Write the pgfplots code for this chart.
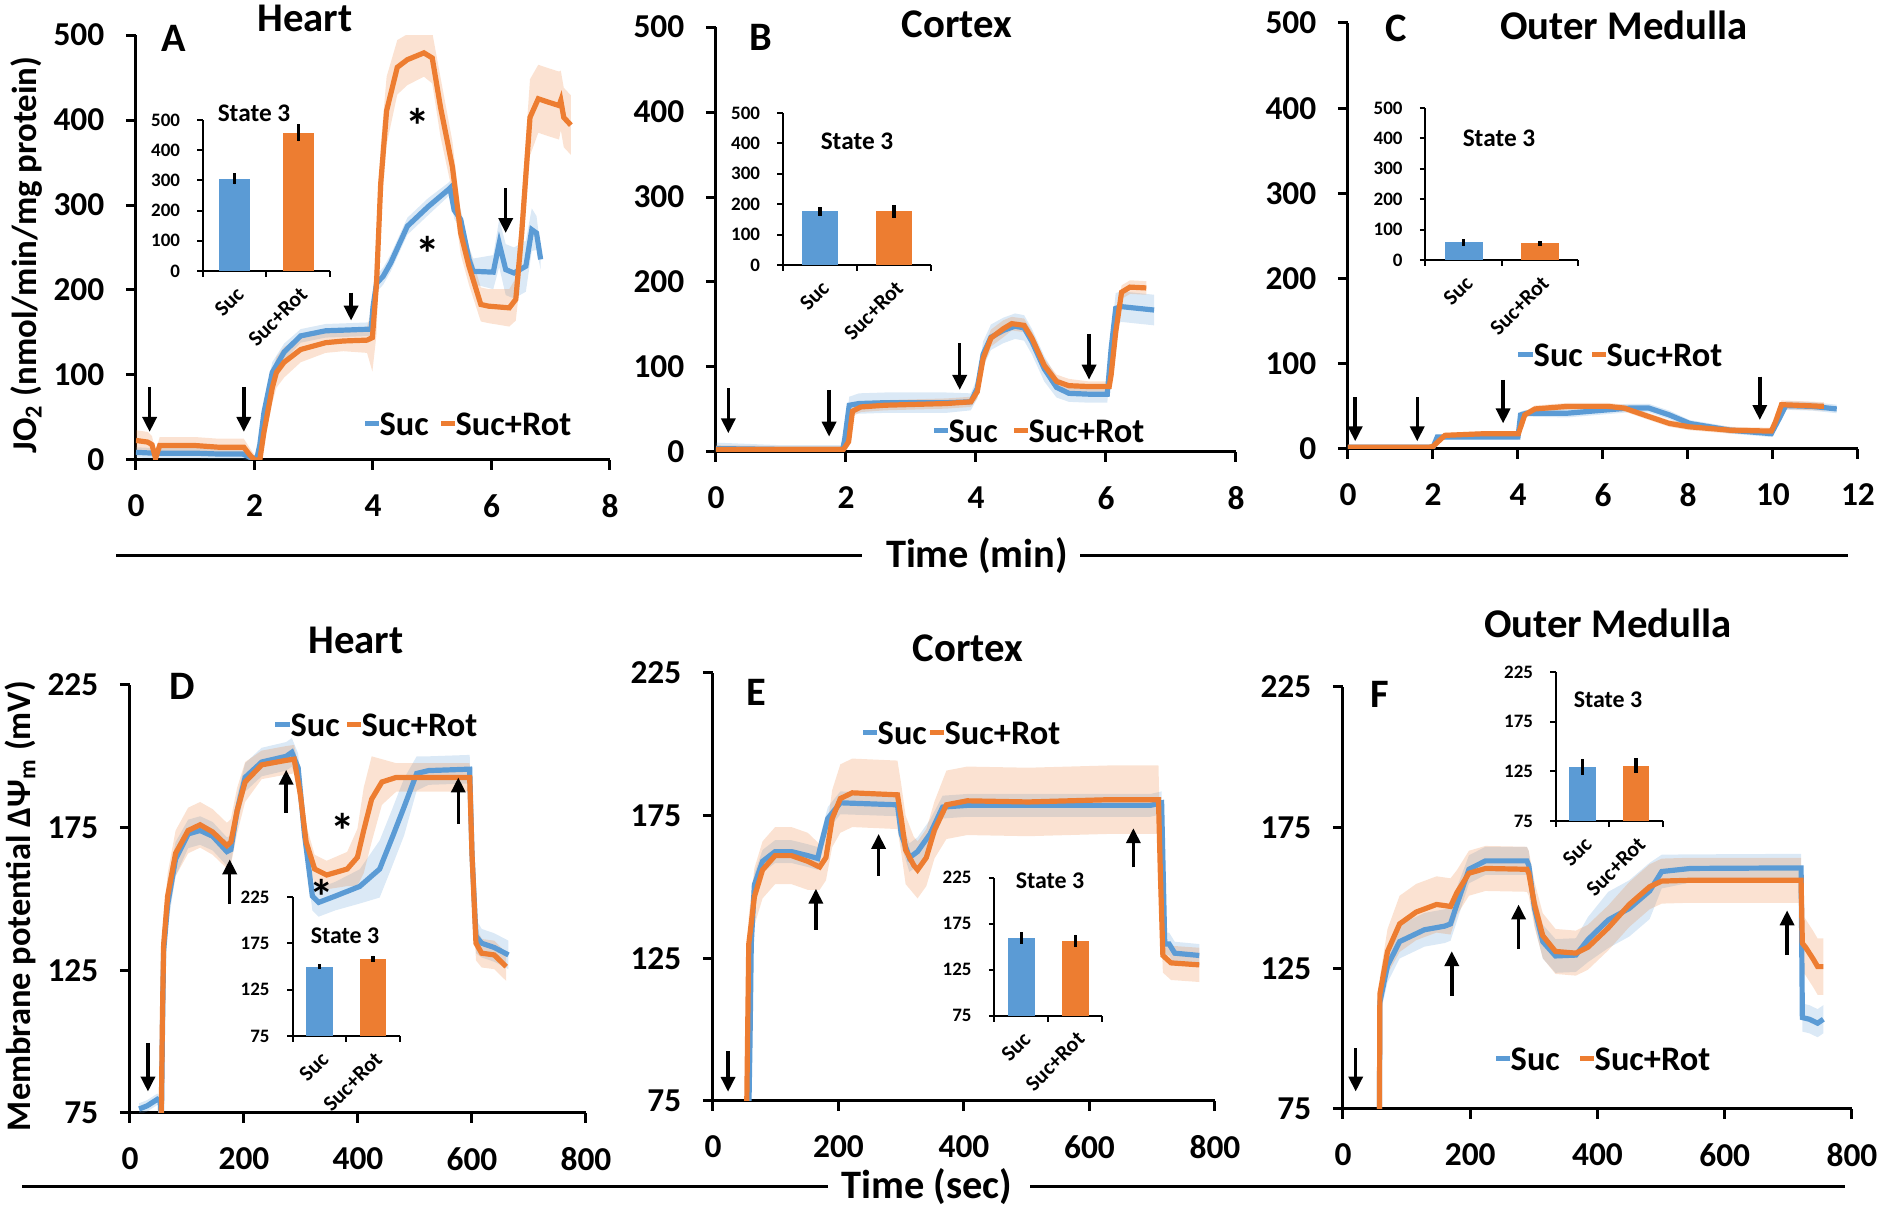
\documentclass[border=0pt]{standalone}
\usepackage{fontspec}
\setmainfont{Carlito}
\usepackage{pgfplots}
\usepackage{pgfplotstable}
\pgfplotsset{compat=1.18}
\usepgfplotslibrary{fillbetween}
\usetikzlibrary{arrows.meta}

\definecolor{sucblue}{HTML}{5B9BD5}
\definecolor{rotorg}{HTML}{ED7D31}
\newcommand{\fs}[1]{\fontsize{#1}{#1}\selectfont\bfseries}

% ---------- oxygen flux (nmol/min/mg), t in min ----------
\pgfplotstableread{
t y e
0.00 9 6
0.30 8 6
0.60 8 6
1.00 8 6
1.40 7 6
1.80 7 6
1.90 4 5
2.00 0 4
2.05 5 6
2.09 18 10
2.16 56 12
2.30 103 12
2.50 127 10
2.78 146 8
3.20 152 8
3.60 153 8
3.97 154 8
4.00 180 10
4.06 208 10
4.17 216 10
4.30 232 10
4.58 275 10
4.93 298 10
5.27 318 8
5.30 320 8
5.37 294 10
5.48 283 12
5.62 236 15
5.69 222 15
6.03 221 20
6.13 255 28
6.24 224 30
6.38 220 30
6.58 228 30
6.68 271 25
6.76 267 20
6.83 236 12
}\Asuc
\pgfplotstableread{
t y e
0.00 23 12
0.20 21 12
0.27 18 10
0.33 2 8
0.40 17 10
0.60 17 10
1.00 17 10
1.40 15 10
1.82 15 10
1.92 6 8
2.00 0 6
2.09 0 6
2.16 33 15
2.30 85 18
2.37 103 18
2.50 115 18
2.78 130 15
3.20 138 12
3.50 140 12
3.90 141 15
3.99 144 40
4.06 208 60
4.13 325 45
4.23 411 40
4.41 462 32
4.58 471 30
4.86 479 28
5.00 473 30
5.14 415 35
5.34 345 30
5.48 267 25
5.62 228 22
5.82 183 20
5.95 181 20
6.30 179 22
6.41 189 25
6.51 267 40
6.65 403 45
6.79 425 40
6.96 421 40
7.14 417 40
7.17 423 35
7.22 403 35
7.34 394 35
}\Arot
\pgfplotstableread{
t y e
0.00 4 7
1.00 3 5
1.95 3 5
1.98 15 6
2.05 55 10
2.20 57 12
2.60 58 12
3.54 58 12
3.92 59 10
4.02 75 12
4.11 115 15
4.23 135 15
4.42 143 15
4.60 148 15
4.74 146 15
4.86 130 15
5.05 98 15
5.24 76 12
5.43 69 10
5.74 68 10
6.02 68 10
6.08 122 15
6.15 169 18
6.24 171 18
6.74 167 18
}\Bsuc
\pgfplotstableread{
t y e
0.00 3 5
1.00 3 4
1.96 3 4
2.04 12 5
2.10 48 6
2.23 53 6
2.60 55 6
3.54 57 6
3.92 59 6
4.02 71 8
4.11 110 10
4.23 134 10
4.42 145 10
4.55 151 8
4.74 149 8
4.86 134 8
5.05 102 8
5.24 83 8
5.43 78 8
5.74 77 6
6.05 77 6
6.08 91 8
6.15 141 8
6.24 188 8
6.37 194 8
6.62 193 8
}\Brot
\pgfplotstableread{
t y e
0.00 2 3
2.00 2 3
2.10 14 3
4.00 14 3
4.06 40 4
4.20 42 4
5.16 42 5
6.12 46 5
6.60 48 5
7.08 48 5
7.56 40 5
8.04 30 4
9.00 22 4
9.96 18 4
10.15 36 4
10.30 51 5
10.92 50 5
11.50 47 5
}\Csuc
\pgfplotstableread{
t y e
0.00 2 2
1.90 2 2
2.00 3 2
2.28 16 3
3.24 18 3
4.01 18 3
4.16 40 4
4.40 47 4
5.16 50 4
6.12 50 4
6.50 48 4
7.08 38 4
7.56 30 4
8.04 26 4
9.00 22 4
9.96 21 4
10.06 32 4
10.20 52 5
10.73 51 5
11.20 50 5
}\Crot

% ---------- membrane potential (mV), t in sec ----------
\pgfplotstableread{
t y e
16 76.4 2
30 77.5 2
48 79.8 2
53 79 2
55 70 2
57 105 5
59 131.7 8
66 148 8
80 164 6
102 172.8 5
123 174 5
145 172 5
170 166.6 5
177 167.3 5
188 181 5
202 192.6 5
231 198 5
274 200 5
284 201.4 5
295 196 5
306 172.8 5
320 151 5
331 148.8 5
360 151 5
403 154.4 6
438 160.5 10
460 171.5 10
481 182.3 10
503 194 6
524 195 5
596 195.5 5
600 166 6
607 137 6
617 134.5 5
639 133 5
664 130.4 5
}\Dsuc
\pgfplotstableread{
t y e
54 60 0
57 110 5
59 134 8
66 151 8
80 166 8
102 174 8
123 176 8
145 173.5 8
170 168.7 8
177 170 8
188 181 8
202 191 7
231 197 5
274 198.6 5
288 199 5
299 186.5 6
309 170 6
324 160.5 5
345 158.4 5
381 160.5 6
399 164.6 10
410 174 15
424 185 15
442 191 8
467 192.6 5
524 192.6 5
596 192.6 5
600 166 8
607 134.5 6
617 131 5
639 130.4 5
660 126.3 5
}\Drot
\pgfplotstableread{
t y e
57 70 0
59 96 3
61 130 4
66 150.8 4
79 159 4
99 162.4 4
125 162.4 4
151 161 4
167 160 4
170 163 4
183 174 4
203 179.5 4
294 178.8 4
300 168.6 4
313 160.3 5
326 162.4 5
346 168.6 5
366 178 4
405 178.6 4
697 178.6 4
715 179.5 4
720 130 4
727 130 4
736 126.8 4
775 126 4
}\Esuc
\pgfplotstableread{
t y e
53 60 0
57 130 10
66 146.6 10
79 156 10
99 161 10
125 161 10
151 159 10
170 157 8
180 160.3 8
190 174 10
203 181 12
222 183 12
294 182.3 12
300 174 12
307 163 12
320 157.6 10
326 156 10
340 160.3 10
353 170 10
372 178.8 12
405 180.2 12
502 179.8 12
632 180.6 12
710 180.6 12
713 154.9 10
717 126 6
730 123.4 6
775 122.7 6
}\Erot
\pgfplotstableread{
t y e
57 60 0
58 113 5
70 126 6
89 134.5 6
128 138.7 6
160 140 6
169 140.8 6
179 147.7 6
198 160.2 5
224 163.2 5
289 163.2 5
292 161.6 5
301 146.3 6
314 134.5 6
334 129.4 6
366 129.7 6
385 135.2 8
417 142.2 10
450 146.3 10
482 152.5 10
501 159.4 6
546 160.5 5
720 160.7 5
722 107.5 5
733 106.9 5
746 105.5 5
755 106.9 5
}\Fsuc
\pgfplotstableread{
t y e
57 60 0
58 115.9 6
70 131 8
89 140.8 10
115 145 10
147 147.7 10
169 147 10
179 151.9 8
198 158.8 8
224 160.5 8
289 160.2 8
292 158.8 8
301 147.7 8
314 136.6 8
334 131 8
366 130.4 8
385 132.5 8
417 139.4 8
450 147.7 8
482 154 8
501 156 8
546 156.3 8
720 156.3 8
722 133.9 10
727 132.5 10
739 128.3 10
746 125.6 10
755 125.6 10
}\Frot

\pgfplotsset{
  mainax/.style={scale only axis, anchor=south west,
    axis lines=left, axis line style={line width=0.3mm,-},
    tick style={line width=0.3mm,black}, tick align=outside, major tick length=1mm,
    tick label style={font=\fs{9.5}, inner sep=0pt}, /pgf/number format/assume math mode=true,
    xticklabel style={yshift=-2.4mm}, yticklabel style={xshift=-2.1mm}},
  insax/.style={scale only axis, anchor=south west,
    axis lines=left, axis line style={line width=0.2mm,-},
    tick style={line width=0.2mm,black}, tick align=outside, major tick length=0.55mm,
    minor tick length=0.6mm,
    xmin=0.5, xmax=2.5, xtick={1,2}, xticklabels={Suc,Suc+Rot},
    minor xtick={0.5,1.5,2.5}, major x tick style={draw=none},
    tick label style={font=\fs{5.4}}, /pgf/number format/assume math mode=true,
    xticklabel style={font=\fs{6.2}, rotate=45, anchor=east, yshift=-1.4mm, xshift=0.6mm},
    yticklabel style={xshift=-0.5mm}},
  insbar/.style={ybar, bar shift=0pt, draw=none,
    error bars/y dir=both, error bars/y explicit,
    error bars/error bar style={line width=0.35mm,black}, error bars/error mark=none}
}

\newcommand{\band}[3]{%
  \addplot[draw=none, forget plot, name path=#3u] table[x=t, y expr=\thisrow{y}+\thisrow{e}] {#1};
  \addplot[draw=none, forget plot, name path=#3l] table[x=t, y expr=\thisrow{y}-\thisrow{e}] {#1};
  \addplot[fill=#2, fill opacity=0.22, draw=none, forget plot] fill between[of=#3u and #3l];
}
\newcommand{\curve}[2]{\addplot[#2, line width=0.52mm] table[x=t, y=y] {#1};}
\newcommand{\arr}[3]{\draw[line width=0.35mm, -{Triangle[length=1.5mm, width=1.4mm]}] (#1,#2) -- (#1,#3);}
\newcommand{\sig}[2]{\node[font=\fs{14}, yshift=-0.8mm] at (#1,#2) {*};}
\newcommand{\mylegend}[5]{%
  \draw[sucblue, line width=0.5mm] (#1,#5) -- (#2,#5);
  \node[anchor=west, font=\fs{9.8}] at (#2,#5) {Suc};
  \draw[rotorg, line width=0.5mm] (#3,#5) -- (#4,#5);
  \node[anchor=west, font=\fs{9.8}] at (#4,#5) {Suc+Rot};
}

\begin{document}
\begin{tikzpicture}
\begin{scope}[x=0.1mm, y=-0.1mm]
  \path (0,0) rectangle (1882,1212);
\end{scope}

% ===== A =====
\begin{axis}[mainax, at={(13.6mm,-46mm)}, width=47.4mm, height=42.5mm,
  xmin=0, xmax=8, ymin=0, ymax=500, xtick={0,2,...,8}, ytick={0,100,...,500}]
\band{\Asuc}{sucblue}{as}
\band{\Arot}{rotorg}{ar}
\curve{\Asuc}{sucblue}
\curve{\Arot}{rotorg}
\arr{0.23}{86}{33}
\arr{1.82}{86}{33}
\arr{3.63}{197}{164}
\arr{6.24}{320}{267}
\sig{4.76}{402}
\sig{4.93}{252}
\end{axis}
\begin{axis}[insax, at={(20.3mm,-27.1mm)}, width=12.7mm, height=15.1mm,
  ymin=0, ymax=500, ytick={0,100,...,500}]
\addplot[insbar, fill=sucblue, bar width=3.1mm] coordinates {(1,305) +- (0,18)};
\addplot[insbar, fill=rotorg, bar width=3.1mm] coordinates {(2,458) +- (0,29)};
\end{axis}

% ===== B =====
\begin{axis}[mainax, at={(71.6mm,-45.2mm)}, width=52mm, height=42.5mm,
  xmin=0, xmax=8, ymin=0, ymax=500, xtick={0,2,...,8}, ytick={0,100,...,500}]
\band{\Bsuc}{sucblue}{bs}
\band{\Brot}{rotorg}{br}
\curve{\Bsuc}{sucblue}
\curve{\Brot}{rotorg}
\arr{0.19}{75}{22}
\arr{1.74}{73}{18}
\arr{3.75}{128}{73}
\arr{5.74}{139}{85}
\end{axis}
\begin{axis}[insax, at={(78.3mm,-26.5mm)}, width=14.8mm, height=15.2mm,
  ymin=0, ymax=500, ytick={0,100,...,500}]
\addplot[insbar, fill=sucblue, bar width=3.6mm] coordinates {(1,176) +- (0,15)};
\addplot[insbar, fill=rotorg, bar width=3.6mm] coordinates {(2,176) +- (0,22)};
\end{axis}

% ===== C =====
\begin{axis}[mainax, at={(134.8mm,-44.9mm)}, width=51mm, height=42.6mm,
  xmin=0, xmax=12, ymin=0, ymax=500, xtick={0,2,...,12}, ytick={0,100,...,500}]
\band{\Csuc}{sucblue}{cs}
\band{\Crot}{rotorg}{cr}
\curve{\Csuc}{sucblue}
\curve{\Crot}{rotorg}
\arr{0.17}{61}{9}
\arr{1.63}{61}{9}
\arr{3.65}{81}{30}
\arr{9.69}{85}{34}
\end{axis}
\begin{axis}[insax, at={(142.55mm,-26mm)}, width=15.25mm, height=15.2mm,
  ymin=0, ymax=500, ytick={0,100,...,500}]
\addplot[insbar, fill=sucblue, bar width=3.8mm] coordinates {(1,58) +- (0,11)};
\addplot[insbar, fill=rotorg, bar width=3.8mm] coordinates {(2,55) +- (0,8)};
\end{axis}

% ===== D =====
\begin{axis}[mainax, at={(13mm,-111.3mm)}, width=45.6mm, height=42.8mm,
  xmin=0, xmax=800, ymin=75, ymax=225, xtick={0,200,...,800}, ytick={75,125,175,225}]
\band{\Dsuc}{sucblue}{ds}
\band{\Drot}{rotorg}{dr}
\curve{\Dsuc}{sucblue}
\curve{\Drot}{rotorg}
\arr{31.5}{99.6}{82.5}
\arr{175}{148.2}{163.9}
\arr{274}{180.3}{195.3}
\arr{576}{176.2}{192.6}
\sig{373}{176.8}
\sig{337}{153.6}
\end{axis}
\begin{axis}[insax, at={(29.25mm,-103.6mm)}, width=10.75mm, height=13.9mm,
  ymin=75, ymax=225, ytick={75,125,175,225}]
\addplot[insbar, fill=sucblue, bar width=2.65mm] coordinates {(1,149.8) +- (0,2.5)};
\addplot[insbar, fill=rotorg, bar width=2.65mm] coordinates {(2,158.2) +- (0,3.4)};
\end{axis}

% ===== E =====
\begin{axis}[mainax, at={(71.3mm,-110.1mm)}, width=50.2mm, height=42.8mm,
  xmin=0, xmax=800, ymin=75, ymax=225, xtick={0,200,...,800}, ytick={75,125,175,225}]
\band{\Esuc}{sucblue}{es}
\band{\Erot}{rotorg}{er}
\curve{\Esuc}{sucblue}
\curve{\Erot}{rotorg}
\arr{24}{92.5}{78.2}
\arr{164}{135}{149.4}
\arr{264}{154}{168.6}
\arr{670}{156.9}{170.6}
\end{axis}
\begin{axis}[insax, at={(99.45mm,-101.57mm)}, width=10.8mm, height=13.8mm,
  ymin=75, ymax=225, ytick={75,125,175,225}]
\addplot[insbar, fill=sucblue, bar width=2.65mm] coordinates {(1,159.6) +- (0,6.4)};
\addplot[insbar, fill=rotorg, bar width=2.65mm] coordinates {(2,156.2) +- (0,6.8)};
\end{axis}

% ===== F =====
\begin{axis}[mainax, at={(134.3mm,-110.9mm)}, width=50.9mm, height=42.2mm,
  xmin=0, xmax=800, ymin=75, ymax=225, xtick={0,200,...,800}, ytick={75,125,175,225}]
\band{\Fsuc}{sucblue}{fs}
\band{\Frot}{rotorg}{fr}
\curve{\Fsuc}{sucblue}
\curve{\Frot}{rotorg}
\arr{20}{96.5}{81.2}
\arr{171}{115.2}{131.1}
\arr{276}{131.8}{147.7}
\arr{698}{129.7}{145.6}
\end{axis}
\begin{axis}[insax, at={(155.6mm,-82.1mm)}, width=10.7mm, height=14.9mm,
  ymin=75, ymax=225, ytick={75,125,175,225}]
\addplot[insbar, fill=sucblue, bar width=2.65mm] coordinates {(1,129.6) +- (0,7.9)};
\addplot[insbar, fill=rotorg, bar width=2.65mm] coordinates {(2,130.8) +- (0,7.3)};
\end{axis}

% ===== annotations =====
\begin{scope}[x=0.1mm, y=-0.1mm, every node/.style={inner sep=0pt}]
  \node[font=\fs{11.6}] at (305,18) {Heart};
  \node[font=\fs{11.6}] at (957,24) {Cortex};
  \node[font=\fs{11.6}] at (1624,25) {Outer Medulla};
  \node[font=\fs{11.6}] at (356,640) {Heart};
  \node[font=\fs{11.6}] at (968,648) {Cortex};
  \node[font=\fs{11.6}] at (1608,623) {Outer Medulla};
  \node[font=\fs{11.5}] at (174,38) {A};
  \node[font=\fs{11.5}] at (761,37) {B};
  \node[font=\fs{11.5}] at (1396,28) {C};
  \node[font=\fs{11.5}] at (182,686) {D};
  \node[font=\fs{11.5}] at (756,692) {E};
  \node[font=\fs{11.5}] at (1380,694) {F};
  \node[font=\fs{7.2}] at (254,113) {State 3};
  \node[font=\fs{7.2}] at (857,141) {State 3};
  \node[font=\fs{7.2}] at (1499,138) {State 3};
  \node[font=\fs{6.8}] at (345,936) {State 3};
  \node[font=\fs{6.8}] at (1050,881) {State 3};
  \node[font=\fs{6.8}] at (1608,700) {State 3};
  \mylegend{365}{379}{441}{455}{424}
  \mylegend{934}{948}{1014}{1028}{431}
  \mylegend{1518}{1533}{1592}{1606}{355}
  \mylegend{275}{290}{347}{361}{725}
  \mylegend{863}{877}{930}{944}{733}
  \mylegend{1496}{1510}{1580}{1594}{1059}
  \node[rotate=90, font=\fs{9.9}] at (26.5,255) {JO\textsubscript{2} (nmol/min/mg protein)};
  \node[rotate=90, font=\fs{9.8}] at (20,906) {Membrane potential ΔΨ\textsubscript{m} (mV)};
  \draw[line width=0.3mm] (116,556) -- (862,556);
  \node[font=\fs{11.5}] at (977,556) {Time (min)};
  \draw[line width=0.3mm] (1080,556) -- (1848,556);
  \draw[line width=0.3mm] (22,1187) -- (828,1187);
  \node[font=\fs{11.5}] at (927,1187) {Time (sec)};
  \draw[line width=0.3mm] (1030,1187) -- (1845,1187);
\end{scope}
\end{tikzpicture}
\end{document}
